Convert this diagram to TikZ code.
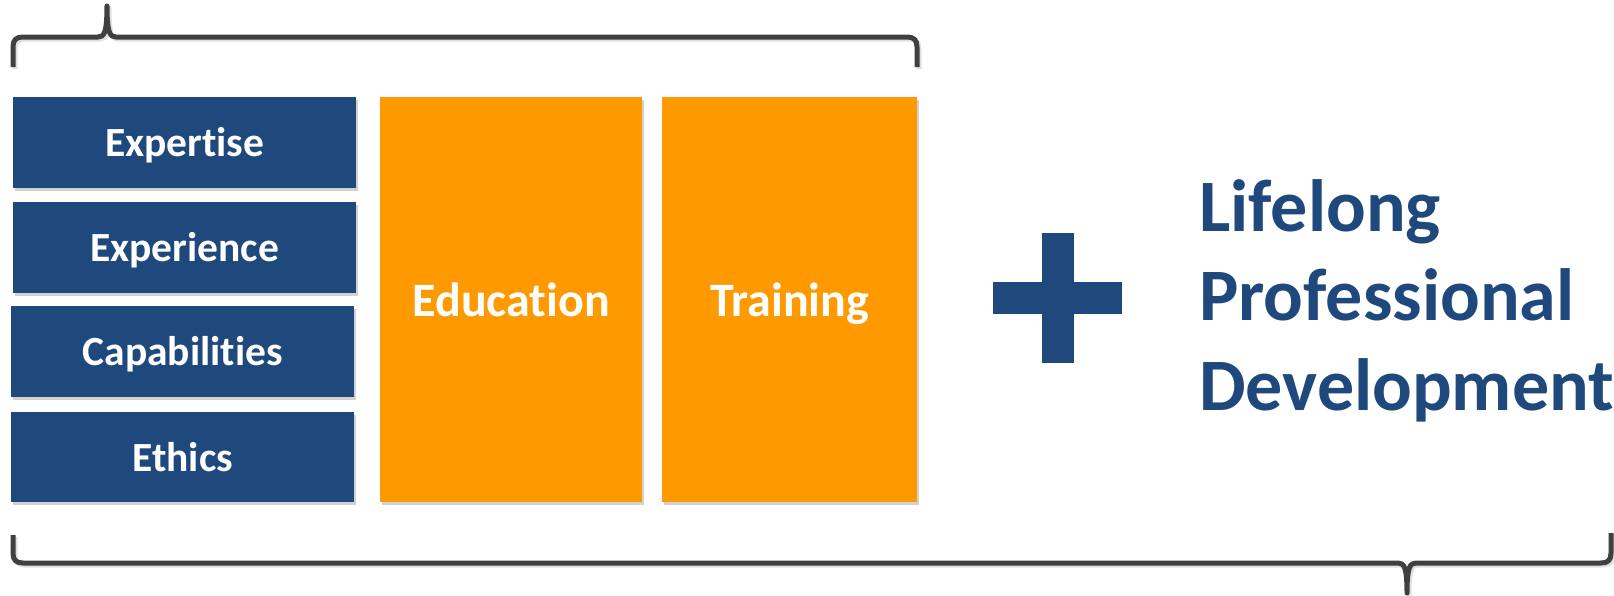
\documentclass[tikz,border=0pt]{standalone}
\usepackage{fontspec}
\setmainfont{Carlito}[Ligatures=NoCommon]
\usetikzlibrary{shadows}
\definecolor{navy}{HTML}{1F497D}
\definecolor{amber}{HTML}{FF9900}
\definecolor{bracegray}{HTML}{404040}
\begin{document}
\begin{tikzpicture}[x=1pt,y=-1pt,
  softshadow/.style={drop shadow={shadow xshift=2pt,shadow yshift=-3pt,opacity=0.18,fill=black}},
  bluebox/.style={fill=navy,draw=none,anchor=north west,inner sep=0pt,minimum width=343pt,
    text=white,font=\bfseries\fontsize{41.5}{50}\selectfont,text height=28pt,text depth=0pt,softshadow},
  orangebox/.style={fill=amber,draw=none,anchor=north west,inner sep=0pt,minimum height=405pt,
    text=white,font=\bfseries\fontsize{48}{58}\selectfont,text height=33pt,text depth=0pt,softshadow},
  bracestyle/.style={draw=bracegray,line width=5pt,line join=round,line cap=butt},
  braceshadow/.style={draw=black,opacity=0.12,line width=5pt,line join=round},
  bigtext/.style={anchor=base west,inner sep=0pt,text=navy,font=\bfseries\fontsize{74}{89}\selectfont}]
\useasboundingbox (0,0) rectangle (1614,595);
% boxes
\node[bluebox,minimum height=91pt] (expertise) at (13,97) {Expertise};
\node[bluebox,minimum height=91pt] (experience) at (13,202) {Experience};
\node[bluebox,minimum height=91pt] (capabilities) at (11,306) {Capabilities};
\node[bluebox,minimum height=90pt] (ethics) at (11,412) {Ethics};
\node[orangebox,minimum width=262pt] (education) at (380,97) {Education};
\node[orangebox,minimum width=255pt] (training) at (662,97) {Training};
% top brace
\path[braceshadow,xshift=2pt,yshift=-2pt] (13,67) -- (13,47) .. controls (13,40) and (16,37) .. (23,37) -- (98,37)
  .. controls (104,37) and (107,33) .. (107,6) .. controls (107,33) and (110,37) .. (116,37)
  -- (907,37) .. controls (914,37) and (917,40) .. (917,47) -- (917,67);
\path[bracestyle] (13,67) -- (13,47) .. controls (13,40) and (16,37) .. (23,37) -- (98,37)
  .. controls (104,37) and (107,33) .. (107,6) .. controls (107,33) and (110,37) .. (116,37)
  -- (907,37) .. controls (914,37) and (917,40) .. (917,47) -- (917,67);
% bottom brace
\path[braceshadow,xshift=2pt,yshift=-2pt] (13,535) -- (13,553) .. controls (13,560) and (16,563) .. (23,563) -- (1398,563)
  .. controls (1404,563) and (1407,567) .. (1407,593) .. controls (1407,567) and (1410,563) .. (1416,563)
  -- (1601,563) .. controls (1608,563) and (1611,560) .. (1611,553) -- (1611,533);
\path[bracestyle] (13,535) -- (13,553) .. controls (13,560) and (16,563) .. (23,563) -- (1398,563)
  .. controls (1404,563) and (1407,567) .. (1407,593) .. controls (1407,567) and (1410,563) .. (1416,563)
  -- (1601,563) .. controls (1608,563) and (1611,560) .. (1611,553) -- (1611,533);
% plus sign
\fill[navy] (993,282) rectangle (1122,314);
\fill[navy] (1042,233) rectangle (1074,363);
% text
\node[bigtext] (lifelong) at (1199,231) {Lifelong};
\node[bigtext] (professional) at (1199,320) {Professional};
\node[bigtext] (development) at (1199,410) {Development};
\end{tikzpicture}
\end{document}
